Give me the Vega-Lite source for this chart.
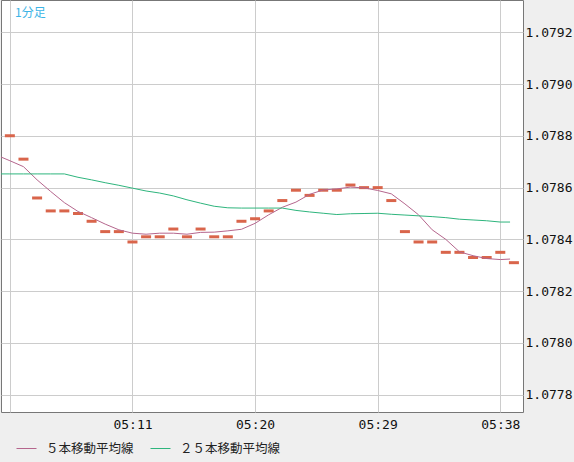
{
  "$schema": "https://vega.github.io/schema/vega-lite/v6.json",
  "description": "1分足 chart with 5 and 25 period moving averages",
  "width": 522,
  "height": 412,
  "autosize": "none",
  "padding": {"left": 1, "top": 0, "right": 51, "bottom": 50},
  "background": "#efefef",
  "view": {"fill": "white", "stroke": "#777777", "strokeWidth": 1},
  "title": {
    "text": "1分足",
    "anchor": "start",
    "frame": "group",
    "orient": "top",
    "baseline": "top",
    "offset": 0,
    "dx": 14,
    "dy": 20,
    "font": "Noto Sans CJK JP",
    "fontSize": 12,
    "fontWeight": "normal",
    "color": "#3cb4e6"
  },
  "datasets": {
    "candles": [
      {"t": "2024-01-01T05:02:00", "close": 1.07880},
      {"t": "2024-01-01T05:03:00", "close": 1.07871},
      {"t": "2024-01-01T05:04:00", "close": 1.07856},
      {"t": "2024-01-01T05:05:00", "close": 1.07851},
      {"t": "2024-01-01T05:06:00", "close": 1.07851},
      {"t": "2024-01-01T05:07:00", "close": 1.07850},
      {"t": "2024-01-01T05:08:00", "close": 1.07847},
      {"t": "2024-01-01T05:09:00", "close": 1.07843},
      {"t": "2024-01-01T05:10:00", "close": 1.07843},
      {"t": "2024-01-01T05:11:00", "close": 1.07839},
      {"t": "2024-01-01T05:12:00", "close": 1.07841},
      {"t": "2024-01-01T05:13:00", "close": 1.07841},
      {"t": "2024-01-01T05:14:00", "close": 1.07844},
      {"t": "2024-01-01T05:15:00", "close": 1.07841},
      {"t": "2024-01-01T05:16:00", "close": 1.07844},
      {"t": "2024-01-01T05:17:00", "close": 1.07841},
      {"t": "2024-01-01T05:18:00", "close": 1.07841},
      {"t": "2024-01-01T05:19:00", "close": 1.07847},
      {"t": "2024-01-01T05:20:00", "close": 1.07848},
      {"t": "2024-01-01T05:21:00", "close": 1.07851},
      {"t": "2024-01-01T05:22:00", "close": 1.07855},
      {"t": "2024-01-01T05:23:00", "close": 1.07859},
      {"t": "2024-01-01T05:24:00", "close": 1.07857},
      {"t": "2024-01-01T05:25:00", "close": 1.07859},
      {"t": "2024-01-01T05:26:00", "close": 1.07859},
      {"t": "2024-01-01T05:27:00", "close": 1.07861},
      {"t": "2024-01-01T05:28:00", "close": 1.07860},
      {"t": "2024-01-01T05:29:00", "close": 1.07860},
      {"t": "2024-01-01T05:30:00", "close": 1.07855},
      {"t": "2024-01-01T05:31:00", "close": 1.07843},
      {"t": "2024-01-01T05:32:00", "close": 1.07839},
      {"t": "2024-01-01T05:33:00", "close": 1.07839},
      {"t": "2024-01-01T05:34:00", "close": 1.07835},
      {"t": "2024-01-01T05:35:00", "close": 1.07835},
      {"t": "2024-01-01T05:36:00", "close": 1.07833},
      {"t": "2024-01-01T05:37:00", "close": 1.07833},
      {"t": "2024-01-01T05:38:00", "close": 1.07835},
      {"t": "2024-01-01T05:39:00", "close": 1.07831}
    ],
    "averages": [
      {"t": "2024-01-01T05:01:00", "series": "５本移動平均線", "value": 1.078726},
      {"t": "2024-01-01T05:02:00", "series": "５本移動平均線", "value": 1.078704},
      {"t": "2024-01-01T05:03:00", "series": "５本移動平均線", "value": 1.078681},
      {"t": "2024-01-01T05:04:00", "series": "５本移動平均線", "value": 1.078630},
      {"t": "2024-01-01T05:05:00", "series": "５本移動平均線", "value": 1.078585},
      {"t": "2024-01-01T05:06:00", "series": "５本移動平均線", "value": 1.078542},
      {"t": "2024-01-01T05:07:00", "series": "５本移動平均線", "value": 1.078508},
      {"t": "2024-01-01T05:08:00", "series": "５本移動平均線", "value": 1.078484},
      {"t": "2024-01-01T05:09:00", "series": "５本移動平均線", "value": 1.078459},
      {"t": "2024-01-01T05:10:00", "series": "５本移動平均線", "value": 1.078437},
      {"t": "2024-01-01T05:11:00", "series": "５本移動平均線", "value": 1.078424},
      {"t": "2024-01-01T05:12:00", "series": "５本移動平均線", "value": 1.078420},
      {"t": "2024-01-01T05:13:00", "series": "５本移動平均線", "value": 1.078424},
      {"t": "2024-01-01T05:14:00", "series": "５本移動平均線", "value": 1.078424},
      {"t": "2024-01-01T05:15:00", "series": "５本移動平均線", "value": 1.078420},
      {"t": "2024-01-01T05:16:00", "series": "５本移動平均線", "value": 1.078427},
      {"t": "2024-01-01T05:17:00", "series": "５本移動平均線", "value": 1.078428},
      {"t": "2024-01-01T05:18:00", "series": "５本移動平均線", "value": 1.078433},
      {"t": "2024-01-01T05:19:00", "series": "５本移動平均線", "value": 1.078439},
      {"t": "2024-01-01T05:20:00", "series": "５本移動平均線", "value": 1.078462},
      {"t": "2024-01-01T05:21:00", "series": "５本移動平均線", "value": 1.078495},
      {"t": "2024-01-01T05:22:00", "series": "５本移動平均線", "value": 1.078524},
      {"t": "2024-01-01T05:23:00", "series": "５本移動平均線", "value": 1.078544},
      {"t": "2024-01-01T05:24:00", "series": "５本移動平均線", "value": 1.078574},
      {"t": "2024-01-01T05:25:00", "series": "５本移動平均線", "value": 1.078591},
      {"t": "2024-01-01T05:26:00", "series": "５本移動平均線", "value": 1.078595},
      {"t": "2024-01-01T05:27:00", "series": "５本移動平均線", "value": 1.078602},
      {"t": "2024-01-01T05:28:00", "series": "５本移動平均線", "value": 1.078599},
      {"t": "2024-01-01T05:29:00", "series": "５本移動平均線", "value": 1.078589},
      {"t": "2024-01-01T05:30:00", "series": "５本移動平均線", "value": 1.078576},
      {"t": "2024-01-01T05:31:00", "series": "５本移動平均線", "value": 1.078537},
      {"t": "2024-01-01T05:32:00", "series": "５本移動平均線", "value": 1.078495},
      {"t": "2024-01-01T05:33:00", "series": "５本移動平均線", "value": 1.078437},
      {"t": "2024-01-01T05:34:00", "series": "５本移動平均線", "value": 1.078400},
      {"t": "2024-01-01T05:35:00", "series": "５本移動平均線", "value": 1.078352},
      {"t": "2024-01-01T05:36:00", "series": "５本移動平均線", "value": 1.078337},
      {"t": "2024-01-01T05:37:00", "series": "５本移動平均線", "value": 1.078326},
      {"t": "2024-01-01T05:38:00", "series": "５本移動平均線", "value": 1.078322},
      {"t": "2024-01-01T05:38:43", "series": "５本移動平均線", "value": 1.078324},
      {"t": "2024-01-01T05:01:00", "series": "２５本移動平均線", "value": 1.078653},
      {"t": "2024-01-01T05:02:00", "series": "２５本移動平均線", "value": 1.078653},
      {"t": "2024-01-01T05:03:00", "series": "２５本移動平均線", "value": 1.078653},
      {"t": "2024-01-01T05:04:00", "series": "２５本移動平均線", "value": 1.078653},
      {"t": "2024-01-01T05:05:00", "series": "２５本移動平均線", "value": 1.078653},
      {"t": "2024-01-01T05:06:00", "series": "２５本移動平均線", "value": 1.078653},
      {"t": "2024-01-01T05:07:00", "series": "２５本移動平均線", "value": 1.078640},
      {"t": "2024-01-01T05:08:00", "series": "２５本移動平均線", "value": 1.078630},
      {"t": "2024-01-01T05:09:00", "series": "２５本移動平均線", "value": 1.078619},
      {"t": "2024-01-01T05:10:00", "series": "２５本移動平均線", "value": 1.078609},
      {"t": "2024-01-01T05:11:00", "series": "２５本移動平均線", "value": 1.078598},
      {"t": "2024-01-01T05:12:00", "series": "２５本移動平均線", "value": 1.078587},
      {"t": "2024-01-01T05:13:00", "series": "２５本移動平均線", "value": 1.078579},
      {"t": "2024-01-01T05:14:00", "series": "２５本移動平均線", "value": 1.078568},
      {"t": "2024-01-01T05:15:00", "series": "２５本移動平均線", "value": 1.078553},
      {"t": "2024-01-01T05:16:00", "series": "２５本移動平均線", "value": 1.078540},
      {"t": "2024-01-01T05:17:00", "series": "２５本移動平均線", "value": 1.078528},
      {"t": "2024-01-01T05:18:00", "series": "２５本移動平均線", "value": 1.078522},
      {"t": "2024-01-01T05:19:00", "series": "２５本移動平均線", "value": 1.078521},
      {"t": "2024-01-01T05:20:00", "series": "２５本移動平均線", "value": 1.078521},
      {"t": "2024-01-01T05:21:00", "series": "２５本移動平均線", "value": 1.078521},
      {"t": "2024-01-01T05:22:00", "series": "２５本移動平均線", "value": 1.078521},
      {"t": "2024-01-01T05:23:00", "series": "２５本移動平均線", "value": 1.078512},
      {"t": "2024-01-01T05:24:00", "series": "２５本移動平均線", "value": 1.078506},
      {"t": "2024-01-01T05:25:00", "series": "２５本移動平均線", "value": 1.078501},
      {"t": "2024-01-01T05:26:00", "series": "２５本移動平均線", "value": 1.078496},
      {"t": "2024-01-01T05:27:00", "series": "２５本移動平均線", "value": 1.078499},
      {"t": "2024-01-01T05:28:00", "series": "２５本移動平均線", "value": 1.078500},
      {"t": "2024-01-01T05:29:00", "series": "２５本移動平均線", "value": 1.078501},
      {"t": "2024-01-01T05:30:00", "series": "２５本移動平均線", "value": 1.078497},
      {"t": "2024-01-01T05:31:00", "series": "２５本移動平均線", "value": 1.078494},
      {"t": "2024-01-01T05:32:00", "series": "２５本移動平均線", "value": 1.078491},
      {"t": "2024-01-01T05:33:00", "series": "２５本移動平均線", "value": 1.078488},
      {"t": "2024-01-01T05:34:00", "series": "２５本移動平均線", "value": 1.078484},
      {"t": "2024-01-01T05:35:00", "series": "２５本移動平均線", "value": 1.078478},
      {"t": "2024-01-01T05:36:00", "series": "２５本移動平均線", "value": 1.078475},
      {"t": "2024-01-01T05:37:00", "series": "２５本移動平均線", "value": 1.078472},
      {"t": "2024-01-01T05:38:00", "series": "２５本移動平均線", "value": 1.078467},
      {"t": "2024-01-01T05:38:43", "series": "２５本移動平均線", "value": 1.078467}
    ]
  },
  "encoding": {
    "x": {
      "field": "t",
      "type": "temporal",
      "title": null,
      "scale": {
        "domain": [
          {"year": 2024, "month": 1, "date": 1, "hours": 5, "minutes": 1, "seconds": 21},
          {"year": 2024, "month": 1, "date": 1, "hours": 5, "minutes": 39, "seconds": 40}
        ],
        "nice": false
      },
      "axis": {
        "values": [
          {"year": 2024, "month": 1, "date": 1, "hours": 5, "minutes": 2},
          {"year": 2024, "month": 1, "date": 1, "hours": 5, "minutes": 11},
          {"year": 2024, "month": 1, "date": 1, "hours": 5, "minutes": 20},
          {"year": 2024, "month": 1, "date": 1, "hours": 5, "minutes": 29},
          {"year": 2024, "month": 1, "date": 1, "hours": 5, "minutes": 38}
        ],
        "labelExpr": "timeFormat(datum.value, '%H:%M') == '05:02' ? '' : timeFormat(datum.value, '%H:%M')",
        "labelFont": "DejaVu Sans Mono",
        "labelFontSize": 13,
        "labelColor": "#111111",
        "labelPadding": 6,
        "labelFlush": false,
        "labelOverlap": false,
        "ticks": false,
        "domain": false,
        "grid": true,
        "gridColor": "#cccccc",
        "gridWidth": 1
      }
    }
  },
  "layer": [
    {
      "data": {"name": "candles"},
      "mark": {"type": "tick", "orient": "horizontal", "size": 10, "thickness": 3, "color": "#d9654b", "opacity": 1},
      "encoding": {
        "y": {
          "field": "close",
          "type": "quantitative",
          "title": null,
          "scale": {"domain": [1.077733, 1.079325], "zero": false, "nice": false},
          "axis": {
            "orient": "right",
            "values": [1.0778, 1.078, 1.0782, 1.0784, 1.0786, 1.0788, 1.079, 1.0792],
            "format": ".4f",
            "labelFont": "DejaVu Sans Mono",
            "labelFontSize": 13,
            "labelColor": "#111111",
            "labelPadding": 2,
            "ticks": false,
            "domain": false,
            "grid": true,
            "gridColor": "#cccccc",
            "gridWidth": 1
          }
        }
      }
    },
    {
      "data": {"name": "averages"},
      "mark": {"type": "line", "strokeWidth": 1, "clip": true, "interpolate": "linear"},
      "encoding": {
        "y": {"field": "value", "type": "quantitative"},
        "color": {
          "field": "series",
          "type": "nominal",
          "sort": ["５本移動平均線", "２５本移動平均線"],
          "scale": {"domain": ["５本移動平均線", "２５本移動平均線"], "range": ["#b5668d", "#2eb57d"]},
          "legend": {
            "title": null,
            "orient": "none",
            "direction": "horizontal",
            "legendX": 15,
            "legendY": 438,
            "symbolType": "stroke",
            "symbolSize": 400,
            "symbolStrokeWidth": 1,
            "labelFont": "Noto Sans CJK JP",
            "labelFontSize": 12.5,
            "labelColor": "#222222",
            "labelOffset": 9,
            "columnPadding": 14
          }
        }
      }
    }
  ]
}
